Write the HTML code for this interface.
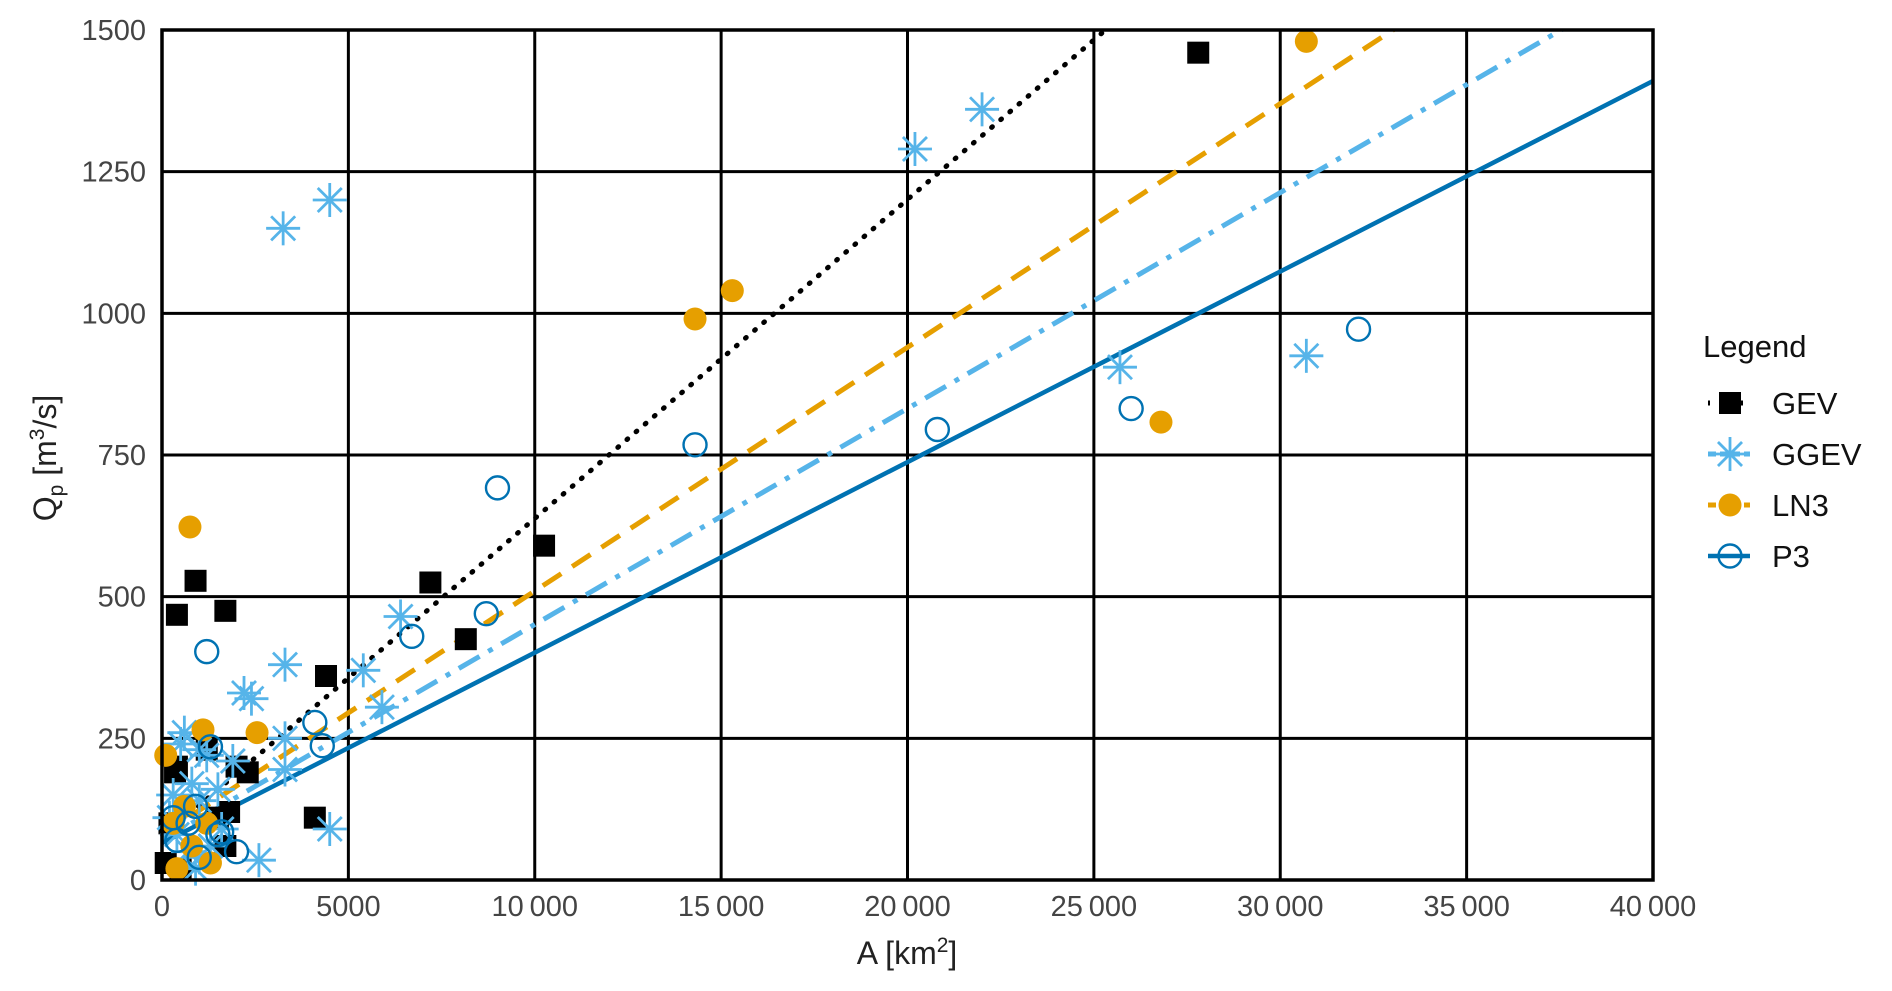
<!DOCTYPE html>
<html><head><meta charset="utf-8"><style>
html,body{margin:0;padding:0;background:#fff;}
svg{display:block;font-family:"Liberation Sans",Arial,sans-serif;}
</style></head><body>
<svg id="chart" width="1892" height="991" viewBox="0 0 1892 991">
<g id="grid"></g>
<g id="lines"></g>
<g id="points"></g>
<g id="axes"></g>
<text x="907" y="964" text-anchor="middle" font-size="32" fill="#222">A [km<tspan dy="-12" font-size="21">2</tspan><tspan dy="12">]</tspan></text>
<text transform="translate(56,458) rotate(-90)" text-anchor="middle" font-size="32" fill="#222">Q<tspan dy="7" font-size="21">p</tspan><tspan dy="-7"> [m</tspan><tspan dy="-12" font-size="21">3</tspan><tspan dy="12">/s]</tspan></text>
<g id="legend">
<text x="1703" y="357" font-size="31" fill="#111">Legend</text>
</g>
</svg>
<script>
const xTicks=[0,5000,10000,15000,20000,25000,30000,35000,40000];
const xTickLabels=["0","5000","10\u2009000","15\u2009000","20\u2009000","25\u2009000","30\u2009000","35\u2009000","40\u2009000"];
const yTicks=[0,250,500,750,1000,1250,1500];
const yTickLabels=["0","250","500","750","1000","1250","1500"];
const lineX=[0,40000];
const gevLine=[75,2327];
const ggevLine=[70,1594];
const ln3Line=[80,1800];
const p3Line=[65,1410];
const gevX=[27800,10250,7200,8150,4400,4100,900,400,1700,350,400,2000,2300,1800,1500,1700,1200,200,100,500];
const gevY=[1460,590,525,425,360,110,528,468,475,190,200,200,190,120,110,60,230,100,30,20];
const ggevX=[3250,4500,20200,22000,25700,30700,6400,3300,2200,2400,5400,5900,3300,3300,4500,2600,600,500,1000,1200,1900,1500,800,300,1000,400,700,1000,1300,1600,200,900];
const ggevY=[1150,1200,1290,1360,905,925,465,380,330,320,370,305,250,195,90,35,260,240,230,220,210,160,170,150,140,80,50,40,60,90,110,20];
const ln3X=[30700,15300,14300,26800,750,1100,2550,100,600,300,1200,400,1300,800];
const ln3Y=[1480,1040,990,808,623,265,260,220,130,100,100,20,30,60];
const p3X=[32100,26000,20800,14300,9000,8700,6700,1200,4100,4300,1300,900,1600,2000,300,700,400,1000,1500];
const p3Y=[972,832,795,768,692,470,430,403,278,237,235,130,85,50,110,100,70,40,80];

const L=162,R=1653,T=30,B=880;
const sx=v=>L+(v-0)/(40000)*(R-L);
const sy=v=>B-(v/1500)*(B-T);
const NS="http://www.w3.org/2000/svg";
function mk(tag,attrs,parent){const e=document.createElementNS(NS,tag);for(const k in attrs)e.setAttribute(k,attrs[k]);parent.appendChild(e);return e;}
const grid=document.getElementById('grid'),axes=document.getElementById('axes'),lines=document.getElementById('lines'),pts=document.getElementById('points'),leg=document.getElementById('legend');
xTicks.forEach((t,i)=>{
 const g=mk('line',{x1:sx(t),x2:sx(t),y1:T,y2:B,stroke:'#000','stroke-width':3},grid);
 
 
 const tx=mk('text',{x:sx(t),y:916,'text-anchor':'middle','font-size':29,fill:'#444'},axes);
 tx.textContent=xTickLabels[i];
 
 
});
yTicks.forEach((t,i)=>{
 const g=mk('line',{x1:L,x2:R,y1:sy(t),y2:sy(t),stroke:'#000','stroke-width':3},grid);
 
 
 const tx=mk('text',{x:146,y:sy(t)+10,'text-anchor':'end','font-size':29,fill:'#444'},axes);
 tx.textContent=yTickLabels[i];
 
 
});
const fr=mk('rect',{x:L,y:T,width:R-L,height:B-T,fill:'none',stroke:'#000','stroke-width':3.5},axes);


const clip=mk('clipPath',{id:'pc'},document.getElementById('chart'));
mk('rect',{x:L,y:T,width:R-L,height:B-T},clip);
lines.setAttribute('clip-path','url(#pc)');
const specs=[
 {n:'gev',ys:gevLine,c:'#000',w:5,d:'1 11',cap:'round'},
 {n:'ggev',ys:ggevLine,c:'#56B4E9',w:5,d:'24 10 5 10',cap:'butt'},
 {n:'ln3',ys:ln3Line,c:'#E69F00',w:5,d:'22 13',cap:'butt'},
 {n:'p3',ys:p3Line,c:'#0072B2',w:4.5,d:'none',cap:'butt'}];
specs.forEach(s=>{
 const l=mk('line',{x1:sx(lineX[0]),y1:sy(s.ys[0]),x2:sx(lineX[1]),y2:sy(s.ys[1]),stroke:s.c,'stroke-width':s.w,'stroke-dasharray':s.d,'stroke-linecap':s.cap},lines);
 
 
});
function square(x,y,p){return mk('rect',{x:x-11,y:y-11,width:22,height:22,fill:'#000'},p);}
function star(x,y,p){const g=mk('g',{stroke:'#56B4E9','stroke-width':2.8,fill:'none'},p);for(let a=0;a<4;a++){const an=a*Math.PI/4;mk('line',{x1:x-17*Math.cos(an),y1:y-17*Math.sin(an),x2:x+17*Math.cos(an),y2:y+17*Math.sin(an)},g);}return g;}
function dot(x,y,p){return mk('circle',{cx:x,cy:y,r:11.5,fill:'#E69F00'},p);}
function ring(x,y,p){return mk('circle',{cx:x,cy:y,r:11.5,fill:'none',stroke:'#0072B2','stroke-width':2.4},p);}
gevX.forEach((v,i)=>{const e=square(sx(v),sy(gevY[i]),pts);
 
 });
ggevX.forEach((v,i)=>{const e=star(sx(v),sy(ggevY[i]),pts);
 
 });
ln3X.forEach((v,i)=>{const e=dot(sx(v),sy(ln3Y[i]),pts);
 
 });
p3X.forEach((v,i)=>{const e=ring(sx(v),sy(p3Y[i]),pts);
 
 });
const legNames=['GEV','GGEV','LN3','P3'];
const markers=[square,star,dot,ring];
legNames.forEach((nm,i)=>{
 const y=403+i*51;
 const g=mk('g',{},leg);
 
 
 const s=specs[i];
 mk('line',{x1:1708,x2:1750,y1:y,y2:y,stroke:s.c,'stroke-width':s.w,'stroke-dasharray':s.d==='none'?'none':(i===0?'2 9':'8 4')},g);
 markers[i](1730,y,g);
 const t=mk('text',{x:1772,y:y+11,'font-size':31,fill:'#111'},g);
 t.textContent=nm;
});
</script>
</body></html>
